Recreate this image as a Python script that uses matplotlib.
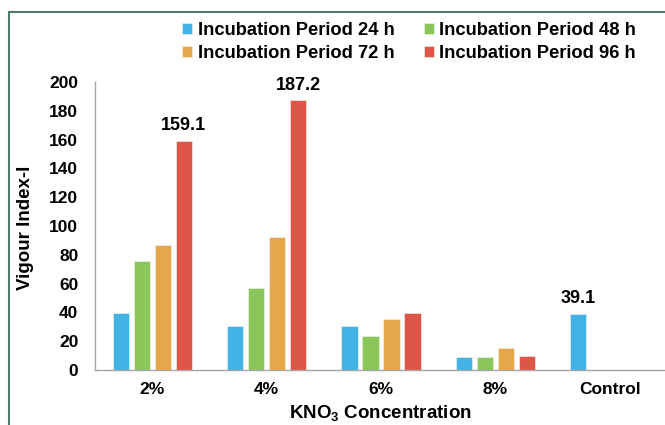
import numpy as np
import matplotlib
matplotlib.use('Agg')
import matplotlib.pyplot as plt
from matplotlib.patches import Rectangle

# fonts: bold Arial-like text everywhere
plt.rcParams['font.family'] = 'Liberation Sans'
plt.rcParams['font.weight'] = 'bold'
plt.rcParams['mathtext.fontset'] = 'custom'
plt.rcParams['mathtext.rm'] = 'Liberation Sans:bold'

# data
categories = ['2%', '4%', '6%', '8%', 'Control']
series_names = ['Incubation Period 24 h', 'Incubation Period 48 h',
                'Incubation Period 72 h', 'Incubation Period 96 h']
vi_24h = [39.6, 30.3, 30.7, 8.8, 39.1]
vi_48h = [75.5, 57.0, 23.5, 8.8, np.nan]
vi_72h = [87.0, 92.3, 35.3, 15.2, np.nan]
vi_96h = [159.1, 187.2, 39.4, 9.9, np.nan]
colors = ['#43B2E4', '#8BC65A', '#E6A64A', '#DB5646']

# values written above the bars: (series index, category index)
labelled = [(3, 0), (3, 1), (0, 4)]

fig = plt.figure(figsize=(6.65, 4.25), dpi=100)
ax = fig.add_axes([95 / 665, 1 - 370 / 425, 572 / 665, 288 / 425])

x = np.arange(len(categories))
step = 0.1836
width = 0.14
all_series = [vi_24h, vi_48h, vi_72h, vi_96h]
bars = []
for i, (vals, name, c) in enumerate(zip(all_series, series_names, colors)):
    b = ax.bar(x + (i - 1.5) * step, vals, width, color=c, label=name,
               edgecolor='#f4f4f4', linewidth=0.4)
    bars.append(b)

for si, ci in labelled:
    v = all_series[si][ci]
    ax.annotate(f'{v:.1f}', (x[ci] + (si - 1.5) * step, v),
                xytext=(0, 11), textcoords='offset points',
                ha='center', va='center', fontsize=13, fontweight='bold')

ax.set_xlim(-0.5, len(categories) - 0.5)
ax.set_ylim(0, 200)
ax.set_yticks(np.arange(0, 201, 20))
ax.set_xticks(x)
ax.set_xticklabels(categories)
ax.tick_params(axis='both', length=0, labelsize=12.5)
ax.tick_params(axis='y', pad=12)
ax.tick_params(axis='x', pad=9)

for s in ['top', 'right']:
    ax.spines[s].set_visible(False)
for s in ['left', 'bottom']:
    ax.spines[s].set_color('#a6a6a6')
    ax.spines[s].set_linewidth(1.0)

fig.text(25 / 665, 1 - 228 / 425, 'Vigour Index-I', rotation=90,
         ha='center', va='center', fontsize=13.5, fontweight='bold')
fig.text(380 / 665, 1 - 414 / 425, r'KNO$_\mathrm{3}$ Concentration',
         ha='center', va='center', fontsize=13.5, fontweight='bold')

# legend in two rows above the plot
h = [bars[0], bars[2], bars[1], bars[3]]
l = [series_names[0], series_names[2], series_names[1], series_names[3]]
fig.legend(h, l, ncol=2, loc='upper left',
           bbox_to_anchor=(182 / 665, 1 - 22 / 425), frameon=False,
           fontsize=13.2, handlelength=0.55, handleheight=0.55,
           handletextpad=0.3, columnspacing=1.6, labelspacing=0.35,
           borderpad=0, borderaxespad=0)

# outer frame, open at the right and bottom edges
fig.patches.append(Rectangle((9 / 665, -0.1), 1.2, 1 - 12 / 425 + 0.1,
                             transform=fig.transFigure, fill=False,
                             edgecolor='#4E7B69', linewidth=1.5))

fig.savefig('out.png', dpi=100)
